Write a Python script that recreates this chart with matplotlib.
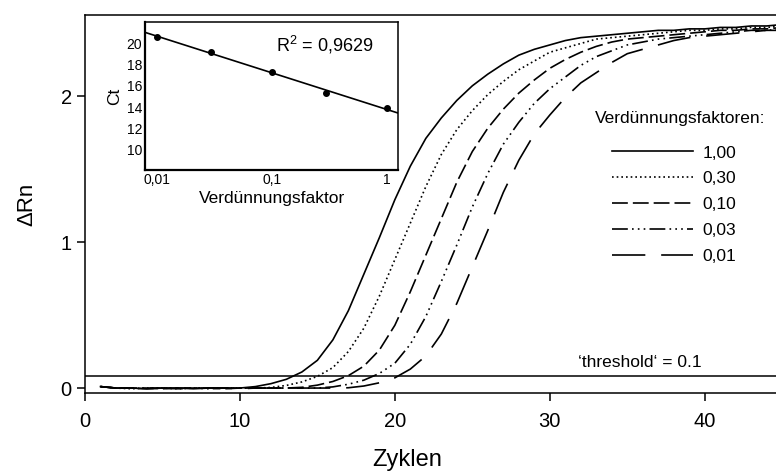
import matplotlib
matplotlib.use('Agg')
import matplotlib.pyplot as plt
import numpy as np

plt.rcParams['font.family'] = ['Liberation Sans', 'DejaVu Sans']
plt.rcParams['mathtext.default'] = 'regular'

### data ###
cycles = list(range(1, 46))

dn_100 = [0.01, 0.00, 0.00, -0.005, 0.00, 0.00, -0.005, 0.00, 0.00, 0.00,
          0.01, 0.03, 0.06, 0.11, 0.19, 0.33, 0.53, 0.78, 1.03, 1.29,
          1.52, 1.71, 1.85, 1.97, 2.07, 2.15, 2.22, 2.28, 2.32, 2.35,
          2.38, 2.40, 2.41, 2.42, 2.43, 2.44, 2.45, 2.45, 2.46, 2.46,
          2.47, 2.47, 2.48, 2.48, 2.49]
dn_030 = [0.01, 0.00, -0.005, 0.00, 0.00, -0.005, 0.00, 0.00, 0.00, 0.00,
          0.00, 0.004, 0.018, 0.042, 0.08, 0.14, 0.25, 0.41, 0.63, 0.88,
          1.13, 1.38, 1.60, 1.77, 1.90, 2.01, 2.10, 2.18, 2.24, 2.30,
          2.33, 2.36, 2.39, 2.40, 2.41, 2.42, 2.43, 2.44, 2.45, 2.45,
          2.46, 2.46, 2.47, 2.47, 2.48]
dn_010 = [0.01, 0.00, 0.00, 0.00, -0.005, 0.00, 0.00, 0.00, -0.005, 0.00,
          0.00, 0.00, 0.00, 0.005, 0.02, 0.045, 0.085, 0.15, 0.26, 0.43,
          0.66, 0.91, 1.16, 1.41, 1.62, 1.78, 1.91, 2.02, 2.11, 2.19,
          2.25, 2.30, 2.34, 2.37, 2.39, 2.40, 2.41, 2.42, 2.43, 2.44,
          2.45, 2.45, 2.46, 2.46, 2.47]
dn_003 = [0.01, 0.00, 0.00, -0.005, 0.00, 0.00, 0.00, -0.005, 0.00, 0.00,
          0.00, 0.00, 0.00, 0.00, 0.00, 0.008, 0.026, 0.054, 0.10, 0.17,
          0.30, 0.49, 0.73, 0.98, 1.24, 1.47, 1.67, 1.82, 1.95, 2.05,
          2.13, 2.21, 2.27, 2.31, 2.35, 2.37, 2.39, 2.40, 2.41, 2.42,
          2.43, 2.44, 2.45, 2.45, 2.46]
dn_001 = [0.01, 0.00, 0.00, 0.00, 0.00, -0.005, 0.00, 0.00, 0.00, -0.005,
          0.00, 0.00, 0.00, 0.00, 0.00, 0.00, 0.002, 0.014, 0.036, 0.07,
          0.13, 0.22, 0.37, 0.58, 0.83, 1.08, 1.34, 1.56, 1.74, 1.87,
          1.99, 2.09, 2.16, 2.23, 2.29, 2.32, 2.35, 2.38, 2.40, 2.41,
          2.42, 2.43, 2.44, 2.45, 2.45]
curves = [dn_100, dn_030, dn_010, dn_003, dn_001]
labels = ['1,00', '0,30', '0,10', '0,03', '0,01']
threshold = 0.08

# inset: Ct vs dilution
dil = [0.01, 0.03, 0.1, 0.3, 1.0]
ct = [20.6, 19.15, 17.3, 15.35, 13.9]

### styles ###
lw = 1.2
dashes = [None, (1, 1.8), (9.5, 3), (9.5, 2.5, 1, 2.5, 1, 2.5, 1, 2.5), (20, 9.5)]

fig = plt.figure(figsize=(7.76, 4.75), dpi=100)
ax = fig.add_axes([0.1095, 0.1726, 0.8905, 0.7958])

for y, lab, d in zip(curves, labels, dashes):
    line, = ax.plot(cycles, y, color='black', lw=lw, label=lab)
    if d is not None:
        line.set_dashes(d)

ax.axhline(threshold, color='black', lw=1.1)
ax.text(35.8, 0.125, '‘threshold‘ = 0.1', fontsize=12.5, ha='center', va='bottom')

ax.set_xlim(0, 44.6)
ax.set_ylim(-0.034, 2.555)
ax.set_xticks([0, 10, 20, 30, 40])
ax.set_yticks([0, 1, 2])
ax.tick_params(labelsize=14.5, direction='out', length=6, width=1.1)
ax.tick_params(axis='x', pad=8)
ax.set_xlabel('Zyklen', fontsize=17)
ax.xaxis.set_label_coords(0.467, -0.148)
ax.set_ylabel('ΔRn', fontsize=16, labelpad=17)
ax.spines['right'].set_visible(False)
for s in ['top', 'left', 'bottom']:
    ax.spines[s].set_linewidth(1.1)

ax.text(0.861, 0.7275, 'Verdünnungsfaktoren:', transform=ax.transAxes,
        fontsize=12.5, ha='center', va='center')
leg = ax.legend(frameon=False, fontsize=12.5, handlelength=4.65,
                handletextpad=0.55, labelspacing=0.62, borderpad=0,
                borderaxespad=0, loc='upper left',
                bbox_to_anchor=(0.763, 0.655))

### inset ###
ax2 = fig.add_axes([0.187, 0.642, 0.326, 0.312])
ax2.plot(dil, ct, 'o', color='black', ms=4)
p = np.polyfit(np.log10(dil), ct, 1)
xf = np.array([10**-2.1, 10**0.1])
ax2.plot(xf, np.polyval(p, np.log10(xf)), color='black', lw=1.2)
ax2.set_xscale('log')
ax2.set_xlim(10**-2.1, 10**0.1)
ax2.set_ylim(8.1, 22)
ax2.set_xticks([0.01, 0.1, 1])
ax2.set_xticklabels(['0,01', '0,1', '1'])
ax2.xaxis.set_minor_locator(matplotlib.ticker.NullLocator())
ax2.set_yticks([10, 12, 14, 16, 18, 20])
ax2.tick_params(labelsize=10, length=0, pad=2)
ax2.set_xlabel('Verdünnungsfaktor', fontsize=12.5, labelpad=3)
ax2.set_ylabel('Ct', fontsize=12.5, labelpad=3)
ax2.text(0.71, 0.845, 'R$^2$ = 0,9629', transform=ax2.transAxes,
         fontsize=13, ha='center', va='center')
for s in ax2.spines.values():
    s.set_linewidth(1.1)
ax2.spines['left'].set_linewidth(1.6)
ax2.spines['bottom'].set_linewidth(1.6)

fig.savefig('out.png', dpi=100)
